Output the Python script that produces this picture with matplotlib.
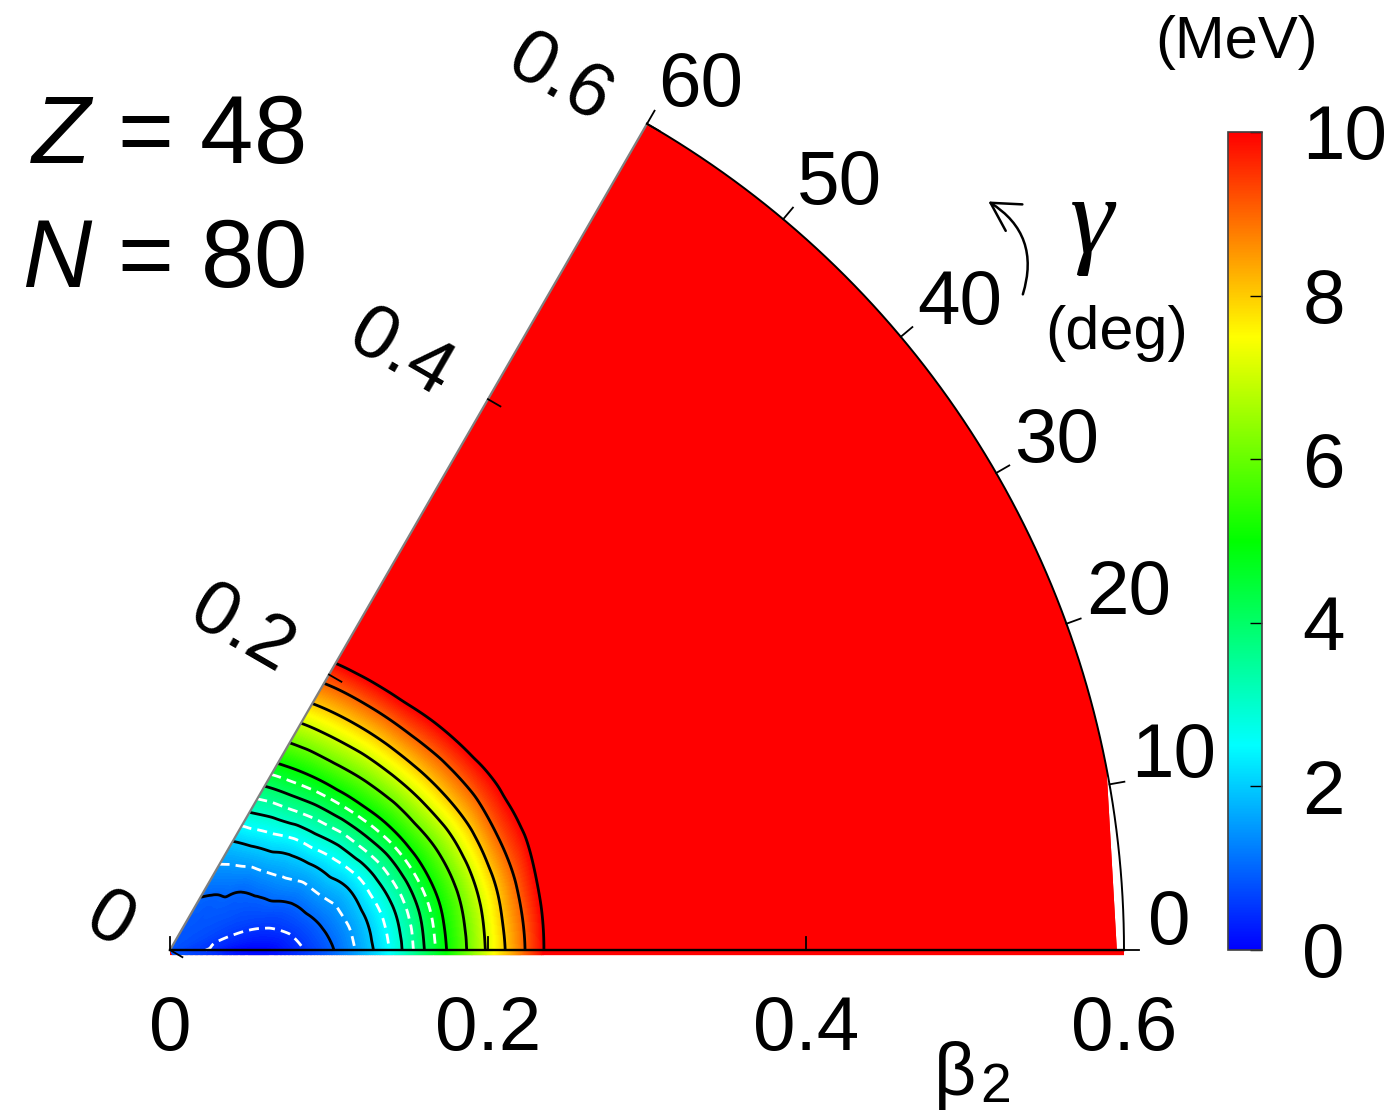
import numpy as np
import matplotlib
matplotlib.use("Agg")
import matplotlib.pyplot as plt
import matplotlib.tri as mtri
from matplotlib.colors import LinearSegmentedColormap, Normalize
from matplotlib.patches import Polygon, FancyArrowPatch
from matplotlib.transforms import Affine2D
from matplotlib.cm import ScalarMappable

plt.rcParams['font.family'] = ['Liberation Sans', 'DejaVu Sans']
plt.rcParams['mathtext.fontset'] = 'custom'
plt.rcParams['mathtext.rm'] = 'Liberation Sans'
plt.rcParams['mathtext.it'] = 'Liberation Sans:italic'

# ---------------- data ----------------
beta_values = [0.00, 0.02, 0.04, 0.06, 0.08, 0.10, 0.12, 0.14, 0.16, 0.18,
               0.20, 0.22, 0.24, 0.26, 0.28, 0.30, 0.40, 0.50, 0.60]
gamma_values = [0, 10, 20, 30, 40, 50, 60]
# energy (MeV) along each gamma ray, at the beta values above
energy_g0 = [0.8, 0.55, 0.09, 0.03, 0.40, 0.90, 1.65, 2.62, 4.00, 5.46, 7.14, 8.73, 10.4, 12.0, 13.5, 15.0, 22, 30, 38]
energy_g10 = [0.8, 0.60, 0.42, 0.40, 0.65, 1.14, 1.82, 2.80, 4.14, 5.61, 7.26, 8.87, 10.4, 11.9, 13.4, 14.9, 22, 30, 38]
energy_g20 = [0.8, 0.72, 0.65, 0.70, 0.93, 1.48, 2.10, 3.21, 4.56, 6.03, 7.61, 9.16, 10.4, 11.8, 13.2, 14.6, 22, 30, 38]
energy_g30 = [0.8, 0.78, 0.80, 0.90, 1.31, 1.81, 2.65, 3.83, 5.15, 6.67, 8.15, 9.50, 10.7, 12.0, 13.4, 14.8, 22, 30, 38]
energy_g40 = [0.8, 0.82, 0.89, 1.05, 1.59, 2.20, 3.23, 4.42, 5.78, 7.25, 8.70, 10.0, 11.3, 12.6, 14.0, 15.4, 22, 30, 38]
energy_g50 = [0.8, 0.85, 0.93, 1.28, 1.84, 2.66, 3.72, 4.90, 6.31, 7.71, 9.12, 10.5, 11.8, 13.2, 14.6, 16.0, 23, 31, 39]
energy_g60 = [0.8, 0.88, 1.02, 1.44, 2.04, 3.00, 4.06, 5.29, 6.67, 8.07, 9.43, 10.8, 12.0, 13.3, 14.6, 16.0, 23, 31, 39]

solid_levels = [1, 2, 3, 4, 5, 6, 7, 8, 9, 10]
dashed_levels = [0.5, 1.5, 2.5, 3.5, 4.5]
gamma_ticks = [0, 10, 20, 30, 40, 50, 60]
beta_ticks = [0.0, 0.2, 0.4, 0.6]
beta_ticklabels = ['0', '0.2', '0.4', '0.6']
cbar_ticks = [0, 2, 4, 6, 8, 10]
Z_value, N_value = 48, 80
e_min, e_max = 0, 10
beta_max = 0.6

# ---------------- figure ----------------
W, H = 1395, 1117
fig = plt.figure(figsize=(W / 100, H / 100), dpi=100)
ax = fig.add_axes([0, 0, 1, 1])
ax.set_axis_off()

cmap = LinearSegmentedColormap.from_list(
    'bcgyr', ['#0000ff', '#00ffff', '#00ff00', '#ffff00', '#ff0000'], N=512)
norm = Normalize(e_min, e_max)

# smooth interpolation done by matplotlib in the (beta, gamma) plane
E = np.array([energy_g0, energy_g10, energy_g20, energy_g30,
              energy_g40, energy_g50, energy_g60])
b = np.array(beta_values)
gdeg = np.array(gamma_values, dtype=float)
nb, ng = len(b), len(gdeg)
gscale = 500.0  # 10 deg -> 0.02 in the parameter plane
U, V = np.meshgrid(b, gdeg / gscale)
tris = []
for i in range(ng - 1):
    for j in range(nb - 1):
        a, bb, c, d = i * nb + j, i * nb + j + 1, (i + 1) * nb + j + 1, (i + 1) * nb + j
        tris.append([a, bb, c])
        tris.append([a, c, d])
tri_uv = mtri.Triangulation(U.ravel(), V.ravel(), tris)
zarr = E.ravel()
interp = mtri.CubicTriInterpolator(tri_uv, zarr, kind='geom')
ref_uv, z_f = mtri.UniformTriRefiner(tri_uv).refine_field(zarr, triinterpolator=interp, subdiv=4)
ang = np.radians(ref_uv.y * gscale)
X = ref_uv.x * np.cos(ang)
Y = ref_uv.x * np.sin(ang)
T = ref_uv.triangles
area = 0.5 * np.abs((X[T[:, 1]] - X[T[:, 0]]) * (Y[T[:, 2]] - Y[T[:, 0]])
                    - (X[T[:, 2]] - X[T[:, 0]]) * (Y[T[:, 1]] - Y[T[:, 0]]))
tri_f = mtri.Triangulation(X, Y, T, mask=area < 1e-12)

# clip region: sector plus a thin strip under the gamma = 0 axis
arc_t = np.radians(np.linspace(11, 60, 120))
strip = 0.0032
clip_verts = [(0, 0), (0, -strip), (beta_max, -strip), (beta_max, 0), (0.5955, 0.0)]
clip_verts += list(zip(beta_max * np.cos(arc_t), beta_max * np.sin(arc_t)))
clip_verts += [(0, 0)]
bg = Polygon(clip_verts, closed=True, facecolor=cmap(1.0), edgecolor='none', zorder=0)
ax.add_patch(bg)

levels = np.linspace(e_min, e_max, 201)
cf = ax.tricontourf(tri_f, z_f, levels=levels, cmap=cmap, norm=norm, extend='both', zorder=1)
cf.set_clip_path(bg)
mirror = Affine2D().scale(1, -1) + ax.transData
cf2 = ax.tricontourf(tri_f, z_f, levels=levels, cmap=cmap, norm=norm, extend='both',
                     zorder=1, transform=mirror)
cf2.set_clip_path(bg)

cl = ax.tricontour(tri_f, z_f, levels=solid_levels, colors='black', linewidths=2.0, zorder=2)
cl.set_clip_path(bg)
cd = ax.tricontour(tri_f, z_f, levels=dashed_levels, colors='white', linewidths=2.0, zorder=2)
cd.set_linestyle((0, (3.6, 2.2)))
cd.set_clip_path(bg)

# frame lines
t = np.radians(np.linspace(0, 60, 300))
ax.plot(beta_max * np.cos(t), beta_max * np.sin(t), color='black', lw=1.4, zorder=3)
e60 = np.radians(60)
ax.plot([0, beta_max * np.cos(e60)], [0, beta_max * np.sin(e60)], color='#7f7f7f', lw=1.6, zorder=3)
ax.plot([0, beta_max], [0, 0], color='black', lw=1.7, zorder=3)

# gamma ticks and labels on the arc
for gd in gamma_ticks:
    gr = np.radians(gd)
    ax.plot([beta_max * np.cos(gr), (beta_max + 0.0095) * np.cos(gr)],
            [beta_max * np.sin(gr), (beta_max + 0.0095) * np.sin(gr)],
            color='black', lw=1.3, zorder=3)
    lr = np.radians(gd + 1.5 - 0.016 * gd)
    rr = 0.615 + 0.00015 * gd
    ax.text(rr * np.cos(lr), rr * np.sin(lr), str(gd), fontsize=55,
            ha='left', va='center')

# beta ticks on the gamma = 0 axis
for bt, lab in zip(beta_ticks, beta_ticklabels):
    if bt < beta_max:
        ax.plot([bt, bt], [0, 0.008], color='black', lw=1.3, zorder=3)
    ax.text(bt, -0.0505, lab, fontsize=55, ha='center', va='center')

# beta ticks and labels along the gamma = 60 edge
nrm = np.array([-np.sin(e60), np.cos(e60)])
inw = np.array([np.cos(np.radians(-30)), np.sin(np.radians(-30))])
for bt, lab in zip(beta_ticks, beta_ticklabels):
    p = np.array([bt * np.cos(e60), bt * np.sin(e60)])
    q = p + 0.009 * inw
    ax.plot([p[0], q[0]], [p[1], q[1]], color='black', lw=1.3, zorder=3)
    a = p + 0.022 * nrm + np.array([-0.0075, 0.0])
    ax.text(a[0], a[1], lab, fontsize=55, ha='right', va='center',
            rotation=-30, rotation_mode='anchor')

ax.set_xlim(-170 / 1590, (W - 170) / 1590)
ax.set_ylim(-(H - 950) / 1590, 950 / 1590)


def fx(x):
    return x / W


def fy(y):
    return 1 - y / H


# colorbar
cax = fig.add_axes([fx(1228), fy(950), 34 / W, 818 / H])
cb = fig.colorbar(ScalarMappable(norm=norm, cmap=cmap), cax=cax, ticks=cbar_ticks)
cb.ax.tick_params(direction='in', length=9, width=1, labelsize=55, pad=29,
                  right=True, left=False, colors='black')
cb.ax.set_yticklabels([str(v) for v in cbar_ticks])
cb.outline.set_edgecolor('#404040')
cb.outline.set_linewidth(1.2)

# annotations
fig.text(fx(30), fy(138), r'$\mathit{Z}$ = %d' % Z_value, fontsize=69, ha='left', va='center')
fig.text(fx(22), fy(262), r'$\mathit{N}$ = %d' % N_value, fontsize=69, ha='left', va='center')
fig.text(fx(1237), fy(42), '(MeV)', fontsize=43, ha='center', va='center')
fig.text(fx(1117), fy(334), '(deg)', fontsize=44, ha='center', va='center')
fig.text(fx(1092), fy(226), 'γ', fontsize=80, ha='center', va='center',
         family=['Liberation Serif', 'DejaVu Serif'], style='italic')
fig.text(fx(955), fy(1075), 'β', fontsize=53, ha='center', va='center')
fig.text(fx(996), fy(1088), '2', fontsize=40, ha='center', va='center')
arr = FancyArrowPatch((fx(1022), fy(297)), (fx(986), fy(200)), transform=fig.transFigure,
                      connectionstyle='arc3,rad=0.4',
                      arrowstyle='->,head_length=0.8,head_width=0.45',
                      mutation_scale=25, lw=1.8, color='black')
fig.patches.append(arr)

fig.savefig('out.png', dpi=100)
